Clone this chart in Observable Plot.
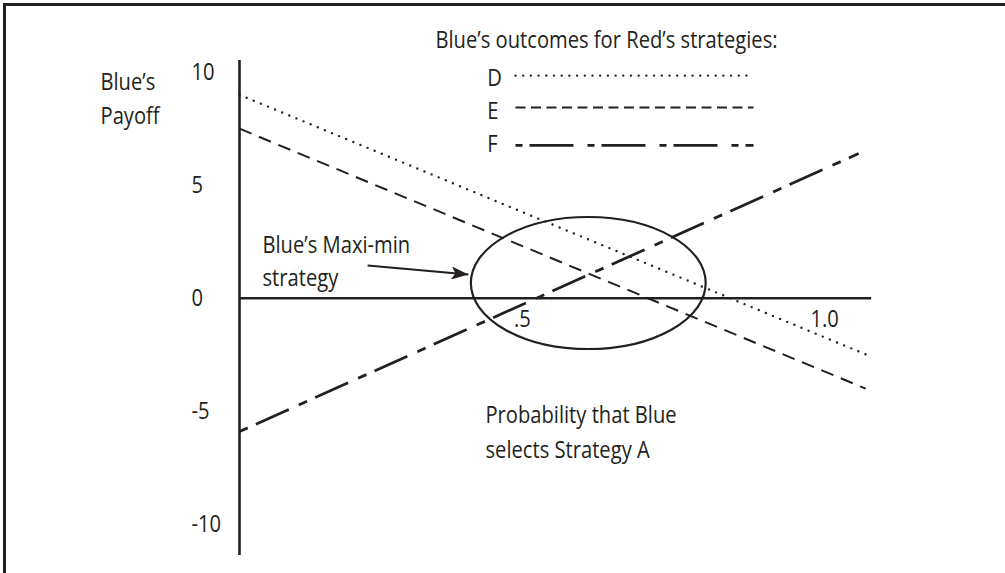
<!DOCTYPE html>
<html><head><meta charset="utf-8">
<script src="https://cdn.jsdelivr.net/npm/d3@7"></script>
<script src="https://cdn.jsdelivr.net/npm/@observablehq/plot@0.6"></script>
<style>
html,body{margin:0;padding:0;background:#fff;}
#wrap{position:relative;width:1005px;height:573px;overflow:hidden;}
#chart svg{position:absolute;left:0;top:0;}
#frame{position:absolute;left:3px;top:3px;right:0;bottom:0;border-top:3px solid #231f20;border-left:3px solid #231f20;}
</style></head><body>
<div id="wrap"><div id="chart"></div><div id="frame"></div></div>
<script>
const ink = "#231f20";
const font = "'Open Sans', 'Noto Sans', sans-serif";
const fs = 24;          // font size in px
const condense = 0.84;  // horizontal squeeze to imitate the condensed face

// Blue's payoff lines for Red's strategies (probability Blue selects A -> payoff)
const strategies = ["D", "E", "F"];
const probStart = [0, 0, 0];
const payoffStart = [9.0, 7.5, -5.9];
const probEnd = [1.061, 1.056, 1.044];
const payoffEnd = [-2.54, -4.0, 6.4];

// axes
const yTicks = [10, 5, 0, -5, -10];
const xTicks = [0.5, 1.0];
const xTickLabels = [".5", "1.0"];
const xAxisEnd = 1.066;
const yAxisRange = [-11.39, 10.52];

// maxi-min highlight
const ellipseCenter = [0.589, 0.65];
const ellipseRadii = [0.198, 2.92];
const arrowFrom = [0.216, 1.45];
const arrowTo = [0.386, 1.05];

// legend
const legendTitle = ["Blue’s outcomes for Red’s strategies:"];
const legendTitlePos = [0.3305, 11.09];
const legendLabelX = 0.418;
const legendLabelY = [9.41, 7.95, 6.45];
const legendLineX = [0.4654, 0.8668];
const legendLineY = [9.85, 8.44, 6.76];

// text notes (anchored at the baseline of their last line)
const noteText = ["Blue’s\nPayoff", "Blue’s Maxi-min\nstrategy", "Probability that Blue\nselects Strategy A"];
const noteX = [-0.2344, 0.0388, 0.4148];
const noteY = [7.69, 0.56, -7.09];
const noteLineHeight = [1.417, 1.375, 1.458];

// line styles
const chartStyle = {
  D: {strokeWidth: 2.4, strokeDasharray: "0 7.7", strokeLinecap: "round"},
  E: {strokeWidth: 2, strokeDasharray: "13 8"},
  F: {strokeWidth: 2.8, strokeDasharray: "9 9 36 11"}
};
const legendStyle = {
  D: {strokeWidth: 2.4, strokeDasharray: "0 7.7", strokeLinecap: "round"},
  E: {strokeWidth: 2, strokeDasharray: "10 5.5"},
  F: {strokeWidth: 2.6, strokeDasharray: "7 7 44 14"}
};

const lines = strategies.map((s, i) => ({s, x1: probStart[i], y1: payoffStart[i], x2: probEnd[i], y2: payoffEnd[i]}));
const legendRows = strategies.map((s, i) => ({s, x1: legendLineX[0], x2: legendLineX[1], y: legendLineY[i], ly: legendLabelY[i]}));

function arrowHead(color) {
  const m = d3.create("svg:marker")
    .attr("viewBox", "-17 -6.5 17 13")
    .attr("markerWidth", 17).attr("markerHeight", 13)
    .attr("markerUnits", "userSpaceOnUse")
    .attr("orient", "auto")
    .attr("refX", 0).attr("refY", 0)
    .attr("fill", color).attr("stroke", "none");
  m.append("path").attr("d", "M-17,-6.5L0,0L-17,6.5L-13,0Z");
  return m.node();
}

function ellipseMark(index, {x, y}) {
  const cx = x(ellipseCenter[0]), cy = y(ellipseCenter[1]);
  return d3.create("svg:ellipse")
    .attr("cx", cx).attr("cy", cy)
    .attr("rx", Math.abs(x(ellipseCenter[0] + ellipseRadii[0]) - cx))
    .attr("ry", Math.abs(y(ellipseCenter[1] + ellipseRadii[1]) - cy))
    .attr("fill", "none").attr("stroke", ink).attr("stroke-width", 2.2)
    .node();
}

const marks = [];
for (const s of strategies) {
  marks.push(Plot.link(lines.filter(d => d.s === s), {x1: "x1", y1: "y1", x2: "x2", y2: "y2", stroke: ink, ...chartStyle[s]}));
  marks.push(Plot.link(legendRows.filter(d => d.s === s), {x1: "x1", x2: "x2", y1: "y", y2: "y", stroke: ink, ...legendStyle[s]}));
}
marks.push(
  Plot.ruleY([0], {x1: 0, x2: xAxisEnd, stroke: ink, strokeWidth: 2.6}),
  Plot.ruleX([0], {y1: yAxisRange[0], y2: yAxisRange[1], stroke: ink, strokeWidth: 2.6}),
  Plot.axisY({ticks: yTicks, tickSize: 0, tickPadding: 48, textAnchor: "start", fontSize: fs, label: null, tickFormat: d => String(d), fill: ink}),
  Plot.text(xTicks, {x: d => d, y: () => 0, text: (d, i) => xTickLabels[i], textAnchor: "start", lineAnchor: "bottom", dx: -22, dy: 29, fontSize: fs, fill: ink}),
  ellipseMark,
  Plot.link([{x1: arrowFrom[0], y1: arrowFrom[1], x2: arrowTo[0], y2: arrowTo[1]}], {x1: "x1", y1: "y1", x2: "x2", y2: "y2", stroke: ink, strokeWidth: 2, markerEnd: arrowHead}),
  Plot.text(legendTitle, {x: () => legendTitlePos[0], y: () => legendTitlePos[1], text: d => d, textAnchor: "start", lineAnchor: "bottom", fontSize: fs, fill: ink}),
  Plot.text(legendRows, {x: () => legendLabelX, y: "ly", text: "s", textAnchor: "start", lineAnchor: "bottom", fontSize: fs, fill: ink})
);
noteText.forEach((t, i) => {
  marks.push(Plot.text([t], {x: () => noteX[i], y: () => noteY[i], text: d => d, textAnchor: "start", lineAnchor: "bottom", lineHeight: noteLineHeight[i], fontSize: fs, fill: ink}));
});

const chart = Plot.plot({
  width: 1005,
  height: 573,
  marginLeft: 239,
  marginRight: 173,
  marginTop: 71.7,
  marginBottom: 49.3,
  x: {domain: [0, 1], axis: null},
  y: {domain: [-10, 10], axis: null},
  style: {fontFamily: font, fontSize: fs + "px", color: ink, background: "transparent", overflow: "visible"},
  marks
});
document.getElementById("chart").appendChild(chart);

// squeeze glyphs horizontally to imitate the narrow typeface of the original
function squeeze(el) {
  const w = el.getComputedTextLength();
  if (w > 0) {
    el.setAttribute("textLength", (w * condense).toFixed(2));
    el.setAttribute("lengthAdjust", "spacingAndGlyphs");
  }
}
chart.querySelectorAll("text").forEach(t => {
  const spans = t.querySelectorAll("tspan");
  if (spans.length) spans.forEach(squeeze); else squeeze(t);
});
</script>
</body></html>
